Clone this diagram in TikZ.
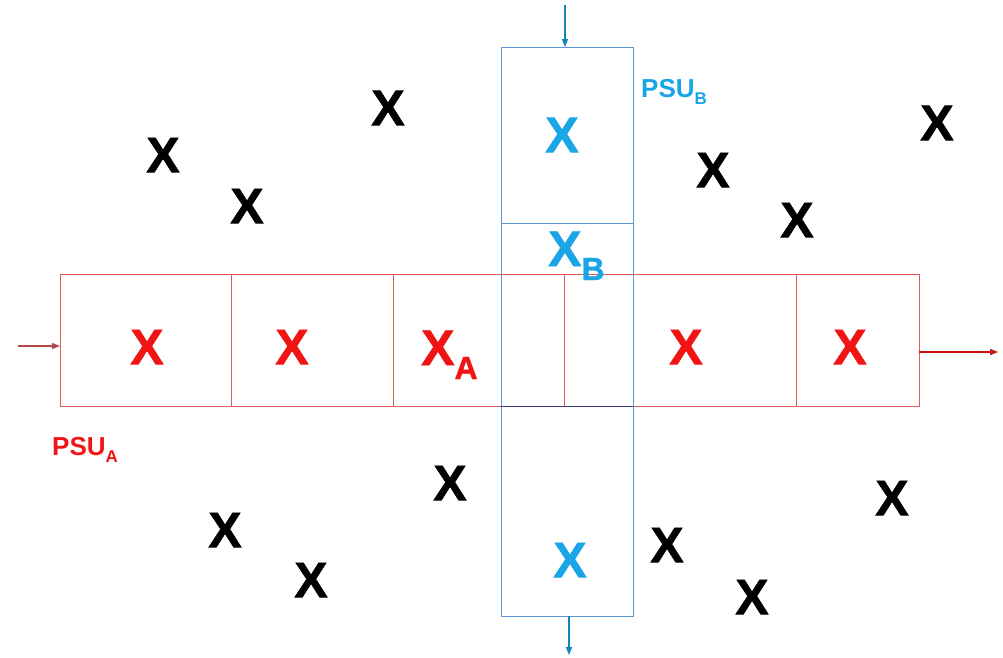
\documentclass[tikz,border=0pt]{standalone}
\usepackage{fontspec}
\setmainfont{Liberation Sans}
\usetikzlibrary{arrows.meta}
\definecolor{xred}{RGB}{240,20,20}
\definecolor{lred}{RGB}{225,90,90}
\definecolor{xblue}{RGB}{25,165,230}
\definecolor{lblue}{RGB}{95,150,210}
\newcommand{\bigX}{\fontsize{50}{50}\selectfont\bfseries\addfontfeature{FakeBold=1.2}}
\newcommand{\subL}{\fontsize{32}{32}\selectfont\bfseries\addfontfeature{FakeBold=1.2}}
\tikzset{
  bx/.style={font=\bigX, inner sep=0pt},
  blk/.style={bx, text=black},
  rx/.style={bx, text=xred},
  bl/.style={bx, text=xblue},
  lab/.style={font=\fontsize{26}{26}\selectfont\bfseries, inner sep=0pt},
  redline/.style={draw=lred, line width=1pt},
  blueline/.style={draw=lblue, line width=1pt},
  tip/.style={-{Triangle[length=8pt,width=6pt]}}
}
\begin{document}
\begin{tikzpicture}[x=1pt,y=-1pt]
\useasboundingbox (0,0) rectangle (1003,657);
% red PSU_A
\coordinate (ra1) at (60,274); \coordinate (ra2) at (919,406);
\draw[redline] (ra1) rectangle (ra2);
\foreach \xx in {231,393,564,796} \draw[redline] (\xx,274) -- (\xx,406);
% blue PSU_B
\coordinate (bb1) at (501,47); \coordinate (bb2) at (633,616);
\draw[blueline] (bb1) rectangle (bb2);
\draw[blueline] (501,223) -- (633,223);
\draw[draw={rgb,255:red,60;green,60;blue,130}, line width=1pt] (501,406) -- (633,406);
% arrows
\coordinate (ain) at (18,346); \coordinate (ainE) at (60,346);
\draw[lred!80!black, line width=1.2pt, tip] (ain) -- (ainE);
\coordinate (aoutS) at (919,352); \coordinate (aout) at (998,352);
\draw[xred!85!black, line width=1.3pt, tip] (aoutS) -- (aout);
\coordinate (btop) at (565,5); \coordinate (btopE) at (565,47);
\draw[xblue!80!black, line width=1.1pt, tip] (btop) -- (btopE);
\coordinate (bbotS) at (569,616); \coordinate (bbot) at (569,655);
\draw[xblue!80!black, line width=1.1pt, tip] (bbotS) -- (bbot);
% red X's
\node[rx] (r1) at (147,347) {X};
\node[rx] (r2) at (292,347) {X};
\node[rx, anchor=base west] (r3) at (421,365) {X\raisebox{-0.28em}{\subL A}};
\node[rx] (r4) at (686,347) {X};
\node[rx] (r5) at (850,347) {X};
% blue X's
\node[bl] (b1) at (562,135) {X};
\node[bl, anchor=base west] (b2) at (548,266) {X\raisebox{-0.28em}{\subL B}};
\node[bl] (b3) at (570,560) {X};
% labels
\node[lab, text=xblue, anchor=base west] (psub) at (641,97) {PSU\raisebox{-0.3em}{\fontsize{17}{17}\selectfont B}};
\node[lab, text=xred, anchor=base west] (psua) at (52,455) {PSU\raisebox{-0.3em}{\fontsize{17}{17}\selectfont A}};
% black X's
\node[blk] (k1) at (163,155) {X};
\node[blk] (k2) at (247,206) {X};
\node[blk] (k3) at (388,108) {X};
\node[blk] (k4) at (713,170) {X};
\node[blk] (k5) at (797,220) {X};
\node[blk] (k6) at (937,123) {X};
\node[blk] (k7) at (450,483) {X};
\node[blk] (k8) at (225,530) {X};
\node[blk] (k9) at (311,580) {X};
\node[blk] (k10) at (667,545) {X};
\node[blk] (k11) at (752,597) {X};
\node[blk] (k12) at (892,498) {X};
\end{tikzpicture}
\end{document}
